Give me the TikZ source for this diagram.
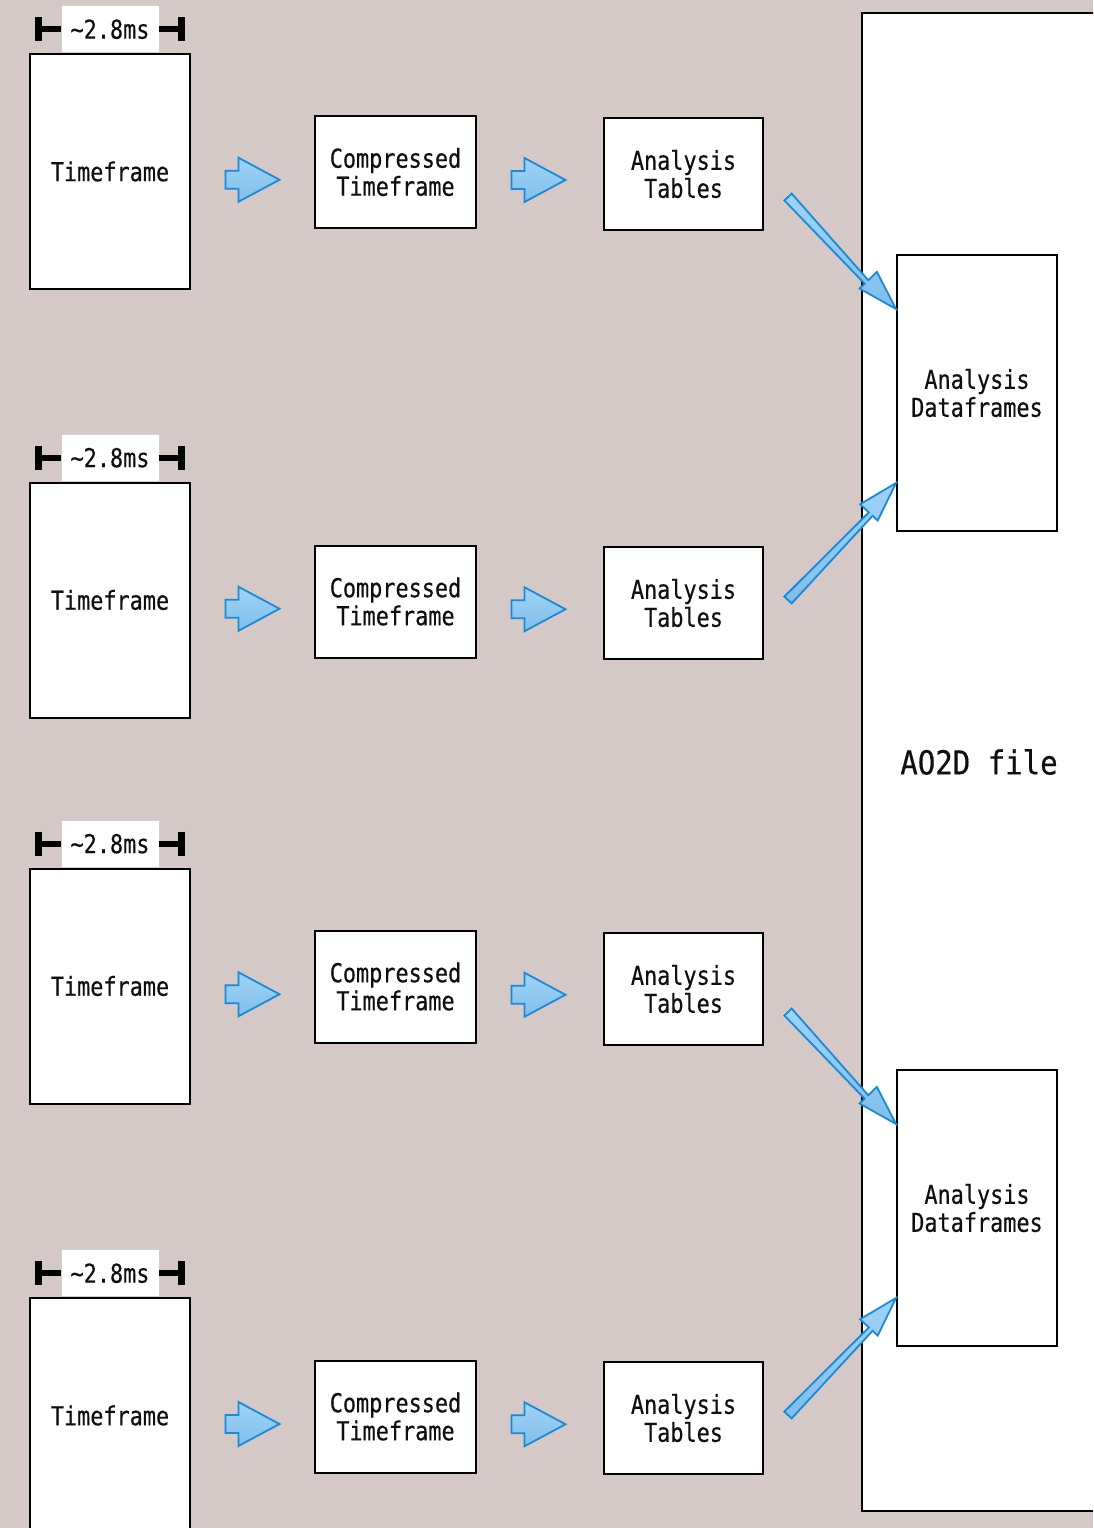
\documentclass[tikz,border=0pt]{standalone}
\usepackage{fontspec}
\newfontfamily\boxmono[FakeStretch=0.84,FakeBold=0.4]{DejaVu Sans Mono}
\newfontfamily\bigmono[FakeStretch=0.88,FakeBold=0.5]{DejaVu Sans Mono}
\usetikzlibrary{calc}
\definecolor{bgc}{RGB}{212,201,199}
\definecolor{arrfill}{RGB}{135,200,245}
\definecolor{arrdraw}{RGB}{25,138,215}
\definecolor{txt}{RGB}{15,15,15}
\tikzset{
  box/.style={draw=black, line width=2pt, fill=white, inner sep=0pt, align=center,
    font=\boxmono\fontsize{26}{28}\selectfont, text=txt},
  tfbox/.style={box, minimum width=160pt, minimum height=235pt},
  ctbox/.style={box, minimum width=161pt, minimum height=112pt},
  atbox/.style={box, minimum width=159pt, minimum height=112pt},
  dfbox/.style={box, minimum width=160pt, minimum height=276pt},
  lbl/.style={draw=black!18, line width=0.6pt, fill=white, minimum width=98pt,
    minimum height=47pt, inner sep=0pt, font=\boxmono\fontsize{26}{28}\selectfont, text=txt},
  blockarr/.style={top color=arrfill!80!white, bottom color=arrfill!95!black, draw=arrdraw, line width=1.8pt, line join=miter},
  barline/.style={line width=6pt, black},
  barend/.style={line width=7pt, black},
}
\newcommand\blkarrow[1]{%
  \path[blockarr] ($(#1)+(-27,-9)$) -- ($(#1)+(-14,-9)$) -- ($(#1)+(-14,-22)$)
    -- ($(#1)+(27,0)$) -- ($(#1)+(-14,22)$) -- ($(#1)+(-14,9)$) -- ($(#1)+(-27,9)$) -- cycle;}
\newcommand\diagarrow[2]{%
  \path[blockarr] ($(#1)!5pt!90:(#2)$) coordinate (tmpa)
    -- ($(#2)!40pt!(#1)$) coordinate (tmpb)
    -- ($(tmpb)!5pt!-90:(#1)$) -- ($(tmpb)!12pt!-90:(#1)$) -- (#2)
    -- ($(tmpb)!12pt!90:(#1)$) -- ($(tmpb)!5pt!90:(#1)$)
    -- ($(#1)!5pt!-90:(#2)$) -- cycle;}
\begin{document}
\begin{tikzpicture}[x=1pt,y=-1pt]
\useasboundingbox (0,0) rectangle (1093,1528);
\clip (0,0) rectangle (1093,1528);
\fill[bgc] (0,0) rectangle (1093,1528);

% big file box
\node[box, font=\bigmono\fontsize{33}{36}\selectfont, minimum width=234pt, minimum height=1498pt] (file) at (979,762) {AO2D file};
\node[dfbox] (df1) at (977,393) {Analysis\\Dataframes};
\node[dfbox] (df2) at (977,1208) {Analysis\\Dataframes};

% rows
\foreach \i/\ty/\cy/\ay in {1/171.5/172/174, 2/600/601.5/603, 3/986/986.5/989, 4/1415.5/1416.5/1418}{
  \node[tfbox] (tf\i) at (110,\ty) {Timeframe};
  \node[ctbox] (ct\i) at (395.5,\cy) {Compressed\\Timeframe};
  \node[atbox] (at\i) at (683.5,\ay) {Analysis\\Tables};
  \node[lbl, anchor=south] (lb\i) at (tf\i.north) {\textasciitilde2.8ms};
  \draw[barline] (lb\i.west) -- ++(-22,0) coordinate (bl\i);
  \draw[barend] ($(bl\i)+(0,-12)$) -- ($(bl\i)+(0,12)$);
  \draw[barline] (lb\i.east) -- ++(22,0) coordinate (br\i);
  \draw[barend] ($(br\i)+(0,-12)$) -- ($(br\i)+(0,12)$);
  \coordinate (ba\i) at ($($(tf\i.east)!0.5!(ct\i.west)$)+(0,8)$);
  \coordinate (bb\i) at ($($(ct\i.east)!0.5!(at\i.west)$)+(-1.5,7)$);
  \blkarrow{ba\i}
  \blkarrow{bb\i}
}

% diagonal arrows
\coordinate (s1) at ($(at1.east)+(24,23)$);
\coordinate (t1) at ($(df1.north west)+(0,55)$);
\coordinate (s2) at ($(at2.east)+(24,-3)$);
\coordinate (t2) at ($(df1.south west)+(0,-49)$);
\coordinate (s3) at ($(at3.east)+(24,23)$);
\coordinate (t3) at ($(df2.north west)+(0,55)$);
\coordinate (s4) at ($(at4.east)+(24,-3)$);
\coordinate (t4) at ($(df2.south west)+(0,-49)$);
\diagarrow{s1}{t1}
\diagarrow{s2}{t2}
\diagarrow{s3}{t3}
\diagarrow{s4}{t4}
\end{tikzpicture}
\end{document}
